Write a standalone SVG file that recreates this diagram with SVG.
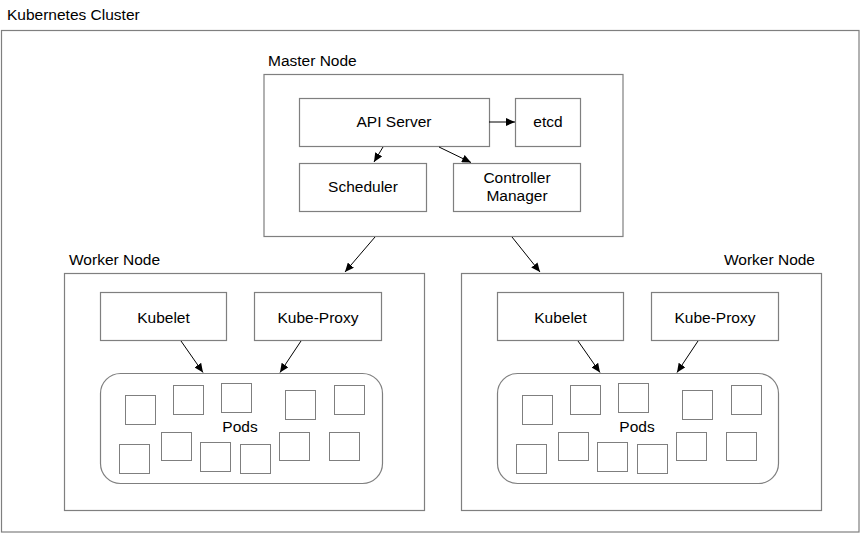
<svg xmlns="http://www.w3.org/2000/svg" width="860" height="533" viewBox="0 0 860 533">
  <defs>
    <marker id="arr" markerWidth="10" markerHeight="8" refX="9" refY="4" orient="auto" markerUnits="userSpaceOnUse">
      <path d="M0,0 L9,4 L0,8 Z" fill="#000"/>
    </marker>
    <style>
      .box { fill: #fff; stroke: #7f7f7f; stroke-width: 1.2; }
      .pod { fill: #fff; stroke: #7f7f7f; stroke-width: 1; }
      .t { font-family: "Liberation Sans", Arial, Helvetica, sans-serif; font-size: 15.5px; fill: #000; }
      .c { text-anchor: middle; }
      .conn { stroke: #000; stroke-width: 1; fill: none; marker-end: url(#arr); }
    </style>
  </defs>
  <rect width="860" height="533" fill="#fff"/>

  <g id="cluster">
    <rect class="box" x="1.5" y="30.5" width="857.5" height="501.5"/>
    <text class="t" x="7" y="20">Kubernetes Cluster</text>
  </g>

  <g id="master-node">
    <rect class="box" x="264" y="74.5" width="359" height="162"/>
    <text class="t" x="268" y="66">Master Node</text>
  </g>
  <g id="api-server">
    <rect class="box" x="299.5" y="98.5" width="190" height="48"/>
    <text class="t c" x="394" y="127">API Server</text>
  </g>
  <g id="etcd">
    <rect class="box" x="515.5" y="98.5" width="65" height="48"/>
    <text class="t c" x="548" y="127">etcd</text>
  </g>
  <g id="scheduler">
    <rect class="box" x="299.5" y="163.5" width="127" height="48"/>
    <text class="t c" x="363" y="192">Scheduler</text>
  </g>
  <g id="controller-manager">
    <rect class="box" x="453.5" y="163.5" width="127" height="48"/>
    <text class="t c" x="517" y="183">Controller</text>
    <text class="t c" x="517" y="201">Manager</text>
  </g>

  <g id="worker-node-1">
    <rect class="box" x="64.5" y="273.5" width="360" height="237"/>
    <text class="t" x="69" y="265">Worker Node</text>
  </g>
  <g id="kubelet-1">
    <rect class="box" x="100.5" y="292.5" width="126" height="48"/>
    <text class="t c" x="163.5" y="323">Kubelet</text>
  </g>
  <g id="kube-proxy-1">
    <rect class="box" x="254.5" y="292.5" width="127" height="48"/>
    <text class="t c" x="318" y="323">Kube-Proxy</text>
  </g>
  <g id="pods-1">
    <rect class="box" x="100.5" y="373.5" width="282" height="110" rx="20" ry="20"/>
    <rect class="pod" x="125.5" y="395.5" width="30" height="29"/>
    <rect class="pod" x="173.5" y="385.5" width="30" height="29"/>
    <rect class="pod" x="221.5" y="383.5" width="30" height="29"/>
    <rect class="pod" x="285.5" y="390.5" width="30" height="29"/>
    <rect class="pod" x="334.5" y="385.5" width="30" height="29"/>
    <rect class="pod" x="119.5" y="444.5" width="30" height="29"/>
    <rect class="pod" x="161.5" y="432.5" width="30" height="28"/>
    <rect class="pod" x="200.5" y="442.5" width="30" height="29"/>
    <rect class="pod" x="240.5" y="444.5" width="30" height="29"/>
    <rect class="pod" x="279.5" y="432.5" width="30" height="28"/>
    <rect class="pod" x="329.5" y="432.5" width="30" height="28"/>
    <text class="t c" x="240" y="432">Pods</text>
  </g>

  <g id="worker-node-2">
    <rect class="box" x="461.5" y="273.5" width="360" height="237"/>
    <text class="t" x="815" y="265" text-anchor="end">Worker Node</text>
  </g>
  <g id="kubelet-2">
    <rect class="box" x="497.5" y="292.5" width="126" height="48"/>
    <text class="t c" x="560.5" y="323">Kubelet</text>
  </g>
  <g id="kube-proxy-2">
    <rect class="box" x="651.5" y="292.5" width="127" height="48"/>
    <text class="t c" x="715" y="323">Kube-Proxy</text>
  </g>
  <g id="pods-2">
    <rect class="box" x="497.5" y="373.5" width="281" height="110" rx="20" ry="20"/>
    <rect class="pod" x="522.5" y="395.5" width="30" height="29"/>
    <rect class="pod" x="570.5" y="385.5" width="30" height="29"/>
    <rect class="pod" x="618.5" y="383.5" width="30" height="29"/>
    <rect class="pod" x="682.5" y="390.5" width="30" height="29"/>
    <rect class="pod" x="731.5" y="385.5" width="30" height="29"/>
    <rect class="pod" x="516.5" y="444.5" width="30" height="29"/>
    <rect class="pod" x="558.5" y="432.5" width="30" height="28"/>
    <rect class="pod" x="597.5" y="442.5" width="30" height="29"/>
    <rect class="pod" x="637.5" y="444.5" width="30" height="29"/>
    <rect class="pod" x="676.5" y="432.5" width="30" height="28"/>
    <rect class="pod" x="726.5" y="432.5" width="30" height="28"/>
    <text class="t c" x="637" y="432">Pods</text>
  </g>

  <g id="connectors">
    <line class="conn" x1="489" y1="122" x2="515" y2="122"/>
    <line class="conn" x1="383" y1="147" x2="374" y2="162"/>
    <line class="conn" x1="439" y1="147" x2="471" y2="162.5"/>
    <line class="conn" x1="375" y1="237" x2="345" y2="272"/>
    <line class="conn" x1="512" y1="237" x2="540" y2="272"/>
    <line class="conn" x1="181" y1="341" x2="203" y2="372.5"/>
    <line class="conn" x1="301" y1="341" x2="280" y2="372.5"/>
    <line class="conn" x1="578" y1="341" x2="600" y2="372.5"/>
    <line class="conn" x1="698" y1="341" x2="677" y2="372.5"/>
  </g>
</svg>
